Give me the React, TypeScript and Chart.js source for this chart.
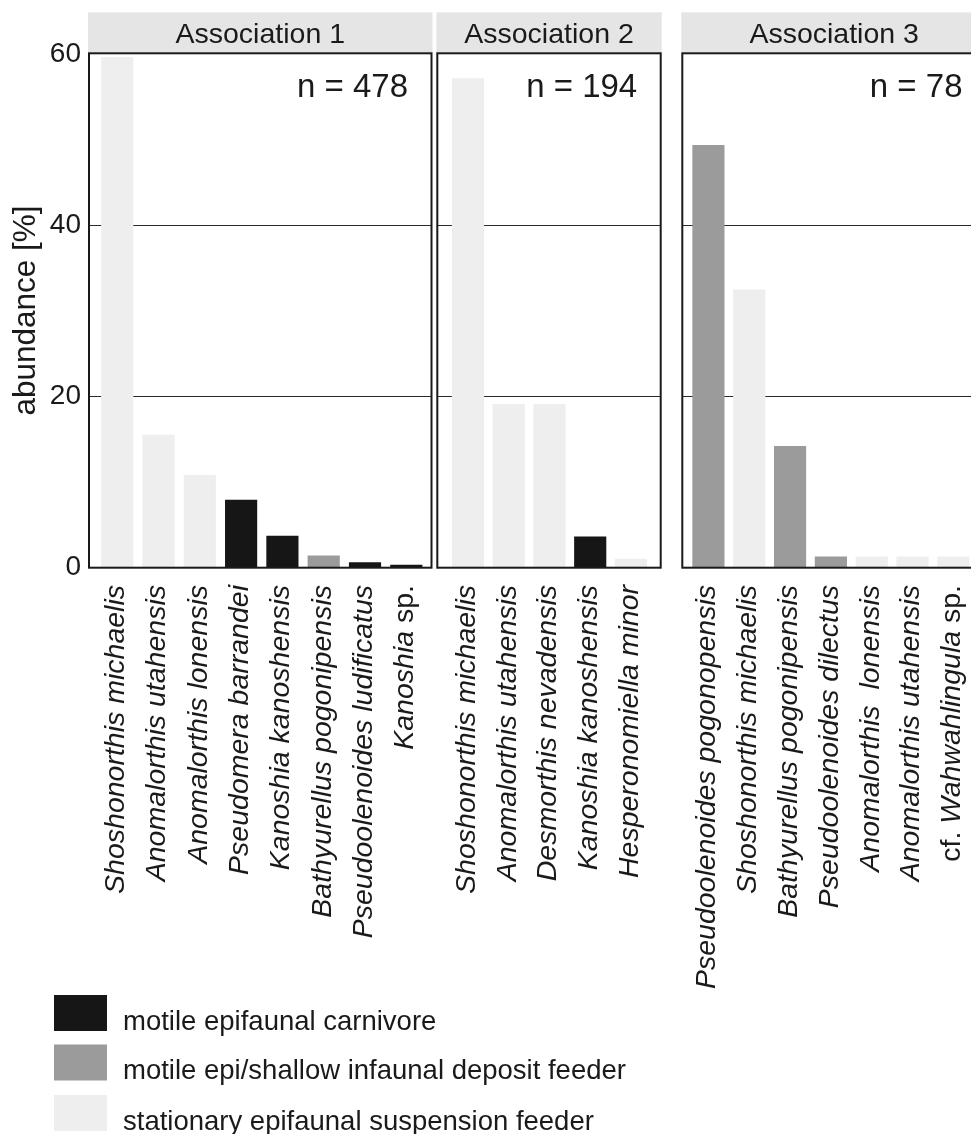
import React, { useEffect, useRef } from 'react';
import { Chart, registerables } from 'chart.js';

Chart.register(...registerables);

// ---------------- data ----------------
const panelTitles = ['Association 1', 'Association 2', 'Association 3'];
const sampleSizes = [478, 194, 78];

const taxa1 = [
  'Shoshonorthis michaelis',
  'Anomalorthis utahensis',
  'Anomalorthis lonensis',
  'Pseudomera barrandei',
  'Kanoshia kanoshensis',
  'Bathyurellus pogonipensis',
  'Pseudoolenoides ludificatus',
  'Kanoshia sp.',
];
const abundance1 = [59.7, 15.5, 10.8, 7.9, 3.7, 1.4, 0.6, 0.3];
const guild1 = ['S', 'S', 'S', 'C', 'C', 'D', 'C', 'C'];

const taxa2 = [
  'Shoshonorthis michaelis',
  'Anomalorthis utahensis',
  'Desmorthis nevadensis',
  'Kanoshia kanoshensis',
  'Hesperonomiella minor',
];
const abundance2 = [57.2, 19.1, 19.1, 3.6, 1.0];
const guild2 = ['S', 'S', 'S', 'C', 'S'];

const taxa3 = [
  'Pseudoolenoides pogonopensis',
  'Shoshonorthis michaelis',
  'Bathyurellus pogonipensis',
  'Pseudoolenoides dilectus',
  'Anomalorthis  lonensis',
  'Anomalorthis utahensis',
  'cf. Wahwahlingula sp.',
];
const abundance3 = [49.4, 32.5, 14.2, 1.28, 1.28, 1.28, 1.28];
const guild3 = ['D', 'S', 'D', 'D', 'S', 'S', 'S'];

const yTickValues = [0, 20, 40, 60];
const gridValues = [20, 40];
const yAxisTitle = 'abundance [%]';

const legendGuilds = ['C', 'D', 'S'];
const legendLabels = [
  'motile epifaunal carnivore',
  'motile epi/shallow infaunal deposit feeder',
  'stationary epifaunal suspension feeder',
];
const uprightWords = ['sp.', 'cf.'];

// ---------------- styles / layout ----------------
const guildColors: Record<string, string> = {
  C: '#161616',
  D: '#9a9b9a',
  S: '#eeeeee',
};
const FONT = '"Liberation Sans", Arial, Helvetica, sans-serif';
const TEXT = '#1a1a1a';
const W = 990;
const H = 1134;
const PLOT_TOP = 53.3;
const PLOT_BOTTOM = 567.7;
const STRIP_TOP = 12.3;
const Y_MAX = 60.16;
const LABEL_TOP = 585;

const panels = [
  { taxa: taxa1, values: abundance1, guilds: guild1, left: 89, right: 431.5, min: -0.683, max: 7.61 },
  { taxa: taxa2, values: abundance2, guilds: guild2, left: 437.3, right: 660.7, min: -0.753, max: 4.73 },
  { taxa: taxa3, values: abundance3, guilds: guild3, left: 682.3, right: 986, min: -0.64, max: 6.8 },
];

function drawLabel(ctx: CanvasRenderingContext2D, text: string, x: number) {
  const parts = text.split(/( +)/).filter((p) => p.length > 0);
  const fonts = parts.map((p) =>
    uprightWords.includes(p) || /^ +$/.test(p) ? `28.5px ${FONT}` : `italic 28.5px ${FONT}`
  );
  let total = 0;
  const widths = parts.map((p, i) => {
    ctx.font = fonts[i];
    const w = ctx.measureText(p).width;
    total += w;
    return w;
  });
  ctx.save();
  ctx.translate(x, LABEL_TOP);
  ctx.rotate(-Math.PI / 2);
  ctx.textAlign = 'left';
  ctx.textBaseline = 'middle';
  ctx.fillStyle = TEXT;
  let cx = -total;
  parts.forEach((p, i) => {
    ctx.font = fonts[i];
    ctx.fillText(p, cx, 0);
    cx += widths[i];
  });
  ctx.restore();
}

function makePanelPlugin(idx: number) {
  return {
    id: 'panelDecor' + idx,
    afterDraw(chart: any) {
      const { ctx, chartArea: a, scales } = chart;
      ctx.save();
      // facet strip
      ctx.fillStyle = '#e5e5e5';
      ctx.fillRect(a.left - 1, STRIP_TOP, a.right - a.left + 2, a.top - STRIP_TOP);
      ctx.fillStyle = TEXT;
      ctx.font = `28.5px ${FONT}`;
      ctx.textAlign = 'center';
      ctx.textBaseline = 'alphabetic';
      ctx.fillText(panelTitles[idx], (a.left + a.right) / 2, 42.5);
      // panel border
      ctx.strokeStyle = TEXT;
      ctx.lineWidth = 2;
      ctx.strokeRect(a.left, a.top, a.right - a.left, a.bottom - a.top);
      // sample size
      ctx.font = `33px ${FONT}`;
      ctx.textAlign = 'right';
      ctx.fillText(`n = ${sampleSizes[idx]}`, a.right - 23.5, 96.7);
      ctx.restore();
      // taxon labels
      panels[idx].taxa.forEach((t, i) => {
        drawLabel(ctx, t, scales.x.getPixelForValue(i) - 1);
      });
      // legend (drawn once on the first panel)
      if (idx === 0) {
        ctx.save();
        const tops = [995, 1044.5, 1095];
        legendGuilds.forEach((g, i) => {
          ctx.fillStyle = guildColors[g];
          ctx.fillRect(54, tops[i], 53, 36);
          ctx.fillStyle = TEXT;
          ctx.font = `27.5px ${FONT}`;
          ctx.textAlign = 'left';
          ctx.textBaseline = 'alphabetic';
          ctx.fillText(legendLabels[i], 123, tops[i] + 34.5);
        });
        ctx.restore();
      }
    },
  };
}

function Panel({ idx }: { idx: number }) {
  const ref = useRef<HTMLCanvasElement | null>(null);
  useEffect(() => {
    const p = panels[idx];
    const first = idx === 0;
    const chart = new Chart(ref.current as HTMLCanvasElement, {
      type: 'bar',
      data: {
        datasets: [
          {
            data: p.values.map((v, i) => ({ x: i, y: v })),
            backgroundColor: p.guilds.map((g) => guildColors[g]),
            borderWidth: 0,
            barThickness: 31.5,
          } as any,
        ],
      },
      options: {
        animation: false,
        responsive: false,
        maintainAspectRatio: false,
        layout: {
          padding: {
            left: first ? 0 : p.left,
            right: W - p.right,
            top: PLOT_TOP,
            bottom: H - PLOT_BOTTOM,
          },
        },
        plugins: { legend: { display: false }, tooltip: { enabled: false } },
        scales: {
          x: {
            type: 'linear',
            min: p.min,
            max: p.max,
            offset: false,
            grid: { display: false },
            border: { display: false },
            ticks: { display: false, stepSize: 1, includeBounds: false },
            afterFit: (s: any) => {
              s.height = 0;
            },
          },
          y: {
            min: 0,
            max: Y_MAX,
            afterBuildTicks: (s: any) => {
              s.ticks = yTickValues.map((v) => ({ value: v }));
            },
            ticks: {
              display: first,
              padding: 8,
              color: TEXT,
              font: { family: FONT, size: 28 },
              callback: (v: any) => String(v),
            },
            grid: {
              drawTicks: false,
              lineWidth: 1,
              color: (c: any) =>
                c.tick && gridValues.includes(c.tick.value) ? '#2a2a2a' : 'rgba(0,0,0,0)',
            },
            border: { display: false },
            title: {
              display: first,
              text: yAxisTitle,
              color: TEXT,
              font: { family: FONT, size: 31.5, lineHeight: 1.2 },
              padding: { top: 7, bottom: 0 },
            },
            afterFit: (s: any) => {
              s.width = first ? 89 : 0;
            },
          },
        },
      } as any,
      plugins: [makePanelPlugin(idx)],
    });
    return () => chart.destroy();
  }, [idx]);
  return (
    <canvas
      ref={ref}
      width={W}
      height={H}
      style={{ position: 'absolute', left: 0, top: 0, width: W, height: H }}
    />
  );
}

export default function App() {
  return (
    <div
      style={{
        position: 'fixed',
        left: 0,
        top: 0,
        width: 971,
        height: 1134,
        overflow: 'hidden',
        background: '#ffffff',
      }}
    >
      <Panel idx={0} />
      <Panel idx={1} />
      <Panel idx={2} />
    </div>
  );
}
